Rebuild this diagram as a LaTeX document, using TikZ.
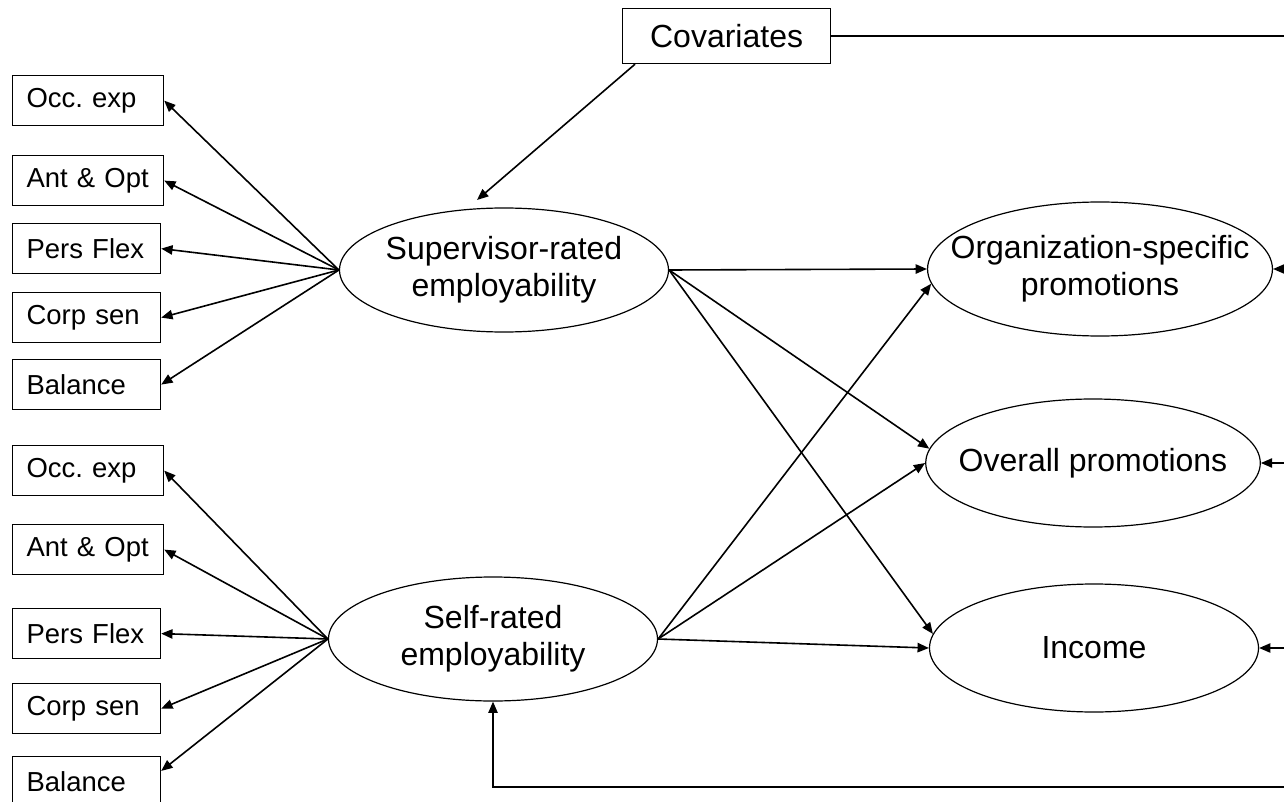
\documentclass[tikz,border=0pt]{standalone}
\usepackage{fontspec}
\setmainfont{Liberation Sans}
\usetikzlibrary{shapes.geometric, arrows.meta, positioning}

\begin{document}
\begin{tikzpicture}[x=0.75pt, y=-0.75pt,
  indicator/.style={draw, line width=0.9pt, anchor=north west, minimum height=37.5pt, inner xsep=10.5pt, text width=90pt, align=left, font=\fontsize{20.6}{24}\selectfont},
  latent/.style={draw, ellipse, line width=0.9pt, inner ysep=0pt, align=center, font=\fontsize{24}{27.5}\selectfont},
  effect/.style={-{Triangle[length=8.5pt, width=7pt]}, line width=1.2pt}]
  \useasboundingbox (0,0) rectangle (1284,802);

  % Covariates
  \node[draw, line width=0.9pt, anchor=north west, minimum width=156pt, minimum height=41.25pt, font=\fontsize{24}{27}\selectfont] (cov) at (622,8) {Covariates};
  \coordinate (covtip) at (477,200);
  \coordinate (redge) at (1284,0);
  \coordinate (bot) at (493,787);

  % Supervisor-rated indicators
  \node[indicator, text width=92.25pt] (occ1) at (12,75) {Occ.\ exp};
  \node[indicator, text width=92.25pt] (ant1) at (12,155) {Ant \& Opt};
  \node[indicator] (pers1) at (12,223) {Pers Flex};
  \node[indicator] (corp1) at (12,292) {Corp sen};
  \node[indicator] (bal1) at (12,359) {Balance};

  % Self-rated indicators
  \node[indicator, text width=92.25pt] (occ2) at (12,445) {Occ.\ exp};
  \node[indicator, text width=92.25pt] (ant2) at (12,524) {Ant \& Opt};
  \node[indicator] (pers2) at (12,608) {Pers Flex};
  \node[indicator] (corp2) at (12,683) {Corp sen};
  \node[indicator] (bal2) at (12,756) {Balance};

  % Latent variables
  \node[latent, inner xsep=-2pt, minimum width=246.75pt, minimum height=93pt] (sup) at (504,270) {Supervisor-rated\\employability};
  \node[latent, inner xsep=0pt, minimum width=246.75pt, minimum height=93pt] (self) at (493,639) {Self-rated\\employability};

  % Outcomes
  \node[latent, inner xsep=-20.6pt, minimum width=255.75pt, minimum height=100.5pt] (org) at (1100,269) {Organization-specific\\promotions};
  \node[latent, inner xsep=-12pt, minimum width=246.75pt, minimum height=96pt] (ovr) at (1093,463) {Overall promotions};
  \node[latent, inner xsep=0pt, minimum width=246.75pt, minimum height=96pt] (inc) at (1094,648) {Income};

  % Loadings
  \foreach \b in {occ1, ant1, pers1, corp1, bal1}
    \draw[effect] (sup.west) -- (\b.east);
  \foreach \b in {occ2, ant2, pers2, corp2}
    \draw[effect] (self.west) -- (\b.east);
  \draw[effect] (self.west) -- ([yshift=8pt]bal2.east);

  % Structural paths
  \draw[effect] (sup.east) -- (org.west);
  \draw[effect] (sup.east) -- (ovr.175);
  \draw[effect] (sup.east) -- (inc.175);
  \draw[effect] (self.east) -- (org.185);
  \draw[effect] (self.east) -- (ovr.west);
  \draw[effect] (self.east) -- (inc.west);

  % Covariate paths
  \draw[effect] ([xshift=9.75pt]cov.south west) -- (covtip);
  \draw[line width=1.2pt] (cov.east) -- (cov.east -| redge);
  \draw[effect] (org.east -| redge) -- (org.east);
  \draw[effect] (ovr.east -| redge) -- (ovr.east);
  \draw[effect] (inc.east -| redge) -- (inc.east);
  \draw[effect] (redge |- bot) -- (bot) -- (self.south);
\end{tikzpicture}
\end{document}
